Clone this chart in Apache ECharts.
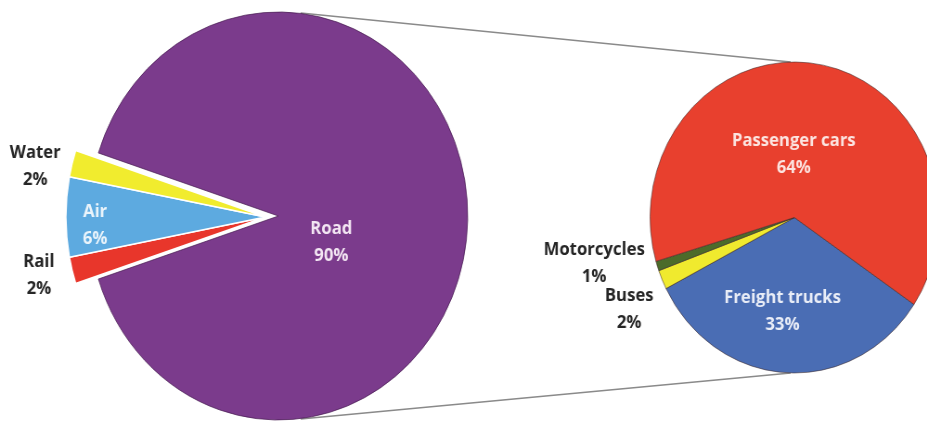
<!DOCTYPE html>
<html>
<head>
<meta charset="utf-8">
<script src="https://cdn.jsdelivr.net/npm/echarts@6/dist/echarts.min.js"></script>
<style>
html,body{margin:0;padding:0;background:#fff;overflow:hidden;width:927px;height:423px;}
#chart{width:999px;height:423px;transform:scaleX(0.928);transform-origin:0 0;}
</style>
</head>
<body>
<div id="chart"></div>
<script>
// ---- data ----
var modeCategories = ['Road', 'Rail', 'Air', 'Water'];
var modeValues = [90, 2, 6, 2];
var roadCategories = ['Freight trucks', 'Buses', 'Motorcycles', 'Passenger cars'];
var roadValues = [33, 2, 1, 64];

// ---- layout / style (chart is drawn 999px wide, then squeezed to 927px) ----
var LEFT = {cx: 300, cy: 216, r: 204};
var WEDGE = {cx: 286, cy: 217, r: 215};
var RIGHT = {cx: 856, cy: 217.5, r: 155.5};
var modeColors = {Road: '#7B3B8C', Rail: '#E8362B', Air: '#5DAAE0', Water: '#F1EC2E'};
var roadColors = {'Freight trucks': '#4A6DB4', 'Buses': '#F0EA2E', 'Motorcycles': '#4C6B2A', 'Passenger cars': '#E8402E'};
var lightLabel = {Road: '#F3E6F3', Air: '#EAF4FB', 'Freight trucks': '#E9EDF7', 'Passenger cars': '#FCE4E0'};
var labelShift = {
  Road: [-48, 26], Air: [-73, 8], Water: [-141, -23], Rail: [-137, 31],
  'Freight trucks': [-8, 13], 'Passenger cars': [-13, 17], 'Buses': [-104, 60], 'Motorcycles': [-139, 21]
};
var FONT = '"Open Sans", Lato, sans-serif';

function labelFor(name) {
  return {
    show: true,
    position: 'inside',
    formatter: '{b}\n{c}%',
    color: lightLabel[name] || '#262626',
    fontFamily: FONT,
    fontWeight: 'bold',
    fontSize: 18,
    lineHeight: 27,
    align: 'center'
  };
}

function shiftLayout(names) {
  return function (p) {
    var s = labelShift[names[p.dataIndex]];
    return s ? {dx: s[0], dy: s[1]} : {};
  };
}

var hidden = {color: 'rgba(0,0,0,0)', borderWidth: 0};
var roadOnlyData = modeCategories.map(function (n, i) {
  if (n === 'Road') {
    return {name: n, value: modeValues[i], itemStyle: {color: modeColors[n], borderColor: 'rgba(70,25,80,0.7)', borderWidth: 1}, label: labelFor(n)};
  }
  return {name: n, value: modeValues[i], itemStyle: hidden, label: {show: false}};
});
var wedgeData = modeCategories.map(function (n, i) {
  if (n === 'Road') {
    return {name: n, value: modeValues[i], itemStyle: hidden, label: {show: false}};
  }
  return {name: n, value: modeValues[i], itemStyle: {color: modeColors[n], borderColor: '#ffffff', borderWidth: 1.5}, label: labelFor(n)};
});
var rightData = roadCategories.map(function (n, i) {
  return {name: n, value: roadValues[i], itemStyle: {color: roadColors[n], borderColor: 'rgba(60,40,40,0.55)', borderWidth: 1}, label: labelFor(n)};
});

var chart = echarts.init(document.getElementById('chart'), null, {renderer: 'canvas', width: 999, height: 423});
chart.setOption({
  animation: false,
  backgroundColor: '#ffffff',
  series: [
    {
      type: 'pie', silent: true, center: [LEFT.cx, LEFT.cy], radius: LEFT.r,
      startAngle: 162, clockwise: true, avoidLabelOverlap: false,
      labelLine: {show: false}, labelLayout: shiftLayout(modeCategories),
      data: roadOnlyData, z: 2
    },
    {
      type: 'pie', silent: true, center: [WEDGE.cx, WEDGE.cy], radius: WEDGE.r,
      startAngle: 162, clockwise: true, avoidLabelOverlap: false,
      labelLine: {show: false}, labelLayout: shiftLayout(modeCategories),
      data: wedgeData, z: 3
    },
    {
      type: 'pie', silent: true, center: [RIGHT.cx, RIGHT.cy], radius: RIGHT.r,
      startAngle: -34, clockwise: true, avoidLabelOverlap: false,
      labelLine: {show: false}, labelLayout: shiftLayout(roadCategories),
      data: rightData, z: 2
    }
  ],
  graphic: [
    {type: 'line', silent: true, z: 1, shape: {x1: LEFT.cx + 24, y1: LEFT.cy - LEFT.r + 1, x2: RIGHT.cx - 4, y2: RIGHT.cy - RIGHT.r}, style: {stroke: '#8a8a8a', lineWidth: 1.6}},
    {type: 'line', silent: true, z: 1, shape: {x1: LEFT.cx + 24, y1: LEFT.cy + LEFT.r - 1, x2: RIGHT.cx - 4, y2: RIGHT.cy + RIGHT.r}, style: {stroke: '#8a8a8a', lineWidth: 1.6}}
  ]
});
</script>
</body>
</html>
